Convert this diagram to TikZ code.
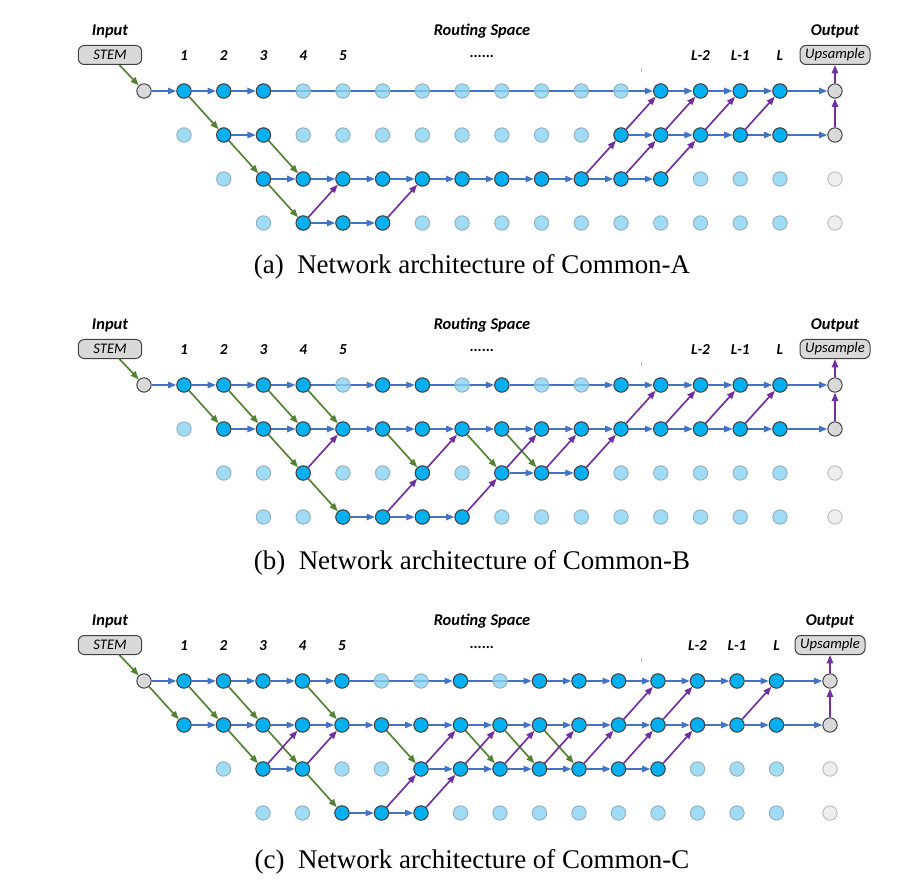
\documentclass[tikz,border=0pt]{standalone}
\usepackage{fontspec}
\setmainfont{Liberation Serif}
\newfontfamily\calfont{Carlito}
\usetikzlibrary{arrows.meta}
\pgfdeclarelayer{bg}
\pgfsetlayers{bg,main}
\definecolor{cellon}{RGB}{0,176,240}
\definecolor{celloff}{RGB}{136,211,242}
\definecolor{celloffline}{RGB}{150,178,192}
\definecolor{cellline}{RGB}{64,64,64}
\definecolor{iogray}{RGB}{217,217,217}
\definecolor{iooff}{RGB}{238,238,238}
\definecolor{iooffline}{RGB}{190,190,190}
\definecolor{sameblue}{RGB}{68,114,196}
\definecolor{downgreen}{RGB}{84,130,53}
\definecolor{uppurple}{RGB}{112,48,160}

\begin{document}
\begin{tikzpicture}[x=0.3mm,y=-0.3mm,>={Triangle[length=2.5mm,width=1.9mm]},
  cell/.style={circle,line width=0.3mm,minimum size=4.3mm,inner sep=0pt},
  idle/.style={cell,draw=celloffline,fill=celloff,fill opacity=0.8},
  active/.style={cell,draw=cellline,fill=cellon},
  io/.style={cell,draw=cellline,fill=iogray},
  ioidle/.style={cell,draw=iooffline,fill=iooff},
  block/.style={draw=cellline,fill=iogray,line width=0.3mm,rounded corners=1.8mm,
    minimum height=5.7mm,inner sep=0pt,font=\calfont\itshape\fontsize{12.5}{14}\selectfont},
  head/.style={font=\calfont\bfseries\itshape\fontsize{14}{16}\selectfont},
  colnum/.style={font=\calfont\bfseries\itshape\fontsize{13}{15}\selectfont},
  capt/.style={font=\fontsize{23}{27}\selectfont},
  fwdedge/.style={->,line width=0.5mm,draw=sameblue},
  dnedge/.style={fwdedge,draw=downgreen},
  upedge/.style={fwdedge,draw=uppurple}]
\useasboundingbox (0,0) rectangle (904,888);

% grid, labels and stem/output of the three panels
\foreach \p/\base/\P/\capy/\dx/\ox in {a/91/A/267/39.73/835,b/385/B/563/39.73/835,c/681/C/862/39.5/830}{
  \node[head] (\p-in) at (110,\base-60) {Input};
  \node[head] (\p-rs) at (482,\base-60) {Routing Space};
  \node[head] (\p-out) at (\ox,\base-60) {Output};
  \node[block,minimum width=19mm] (\p-stem) at (110,\base-36) {STEM};
  \node[block,minimum width=21mm] (\p-up) at (\ox,\base-36) {Upsample};
  \node[colnum,anchor=base] (\p-dots) at (482,\base-33) {......};
  \foreach \c/\t in {1/1,2/2,3/3,4/4,5/5,14/L-2,15/L-1,16/L}
    \node[colnum] (\p-lab-\c) at ({184+(\c-1)*\dx},\base-35) {\t};
  \draw[iooffline,line width=0.3mm] (641,\base-23) -- (641,\base-19);
  \node[io] (\p-1-0) at (144,\base) {};
  \foreach \r/\first in {1/1,2/1,3/2,4/3}{
    \foreach \c in {\first,...,16}
      \node[idle] (\p-\r-\c) at ({184+(\c-1)*\dx},{\base+(\r-1)*44}) {};}
  \foreach \r in {1,2}
    \node[io] (\p-\r-17) at (\ox,{\base+(\r-1)*44}) {};
  \foreach \r in {3,4}
    \node[ioidle] (\p-\r-17) at (\ox,{\base+(\r-1)*44}) {};
  \node[capt] (\p-cap) at (472,\capy) {(\p)\enspace Network architecture of Common-\P};
  \begin{pgfonlayer}{bg}
    \draw[dnedge] (\p-stem) -- (\p-1-0);
    \draw[upedge] (\p-2-17) -- (\p-1-17);
    \draw[upedge] (\p-1-17) -- (\p-up);
  \end{pgfonlayer}
}

% Common-A
\foreach \r/\cols in {1/{1,2,3,13,14,15,16},2/{2,3,12,13,14,15,16},3/{3,...,13},4/{4,5,6}}{
  \foreach \c in \cols
    \node[active] (a-\r-\c) at (a-\r-\c) {};}
\begin{pgfonlayer}{bg}
  \foreach \r/\chain in {1/{0,1,2,3,13,14,15,16,17},2/{2,3},2/{12,...,17},3/{3,...,13},4/{4,5,6}}{
    \foreach \c [count=\i,remember=\c as \prev (initially 0)] in \chain
      {\ifnum\i>1 \draw[fwdedge] (a-\r-\prev) -- (a-\r-\c);\fi}}
  \foreach \r/\c in {1/1,2/2,2/3,3/3}{
    \pgfmathtruncatemacro\rr{\r+1}\pgfmathtruncatemacro\cc{\c+1}
    \draw[dnedge] (a-\r-\c) -- (a-\rr-\cc);}
  \foreach \r/\c in {4/4,4/6,3/11,2/12,3/12,2/13,3/13,2/14,2/15}{
    \pgfmathtruncatemacro\rr{\r-1}\pgfmathtruncatemacro\cc{\c+1}
    \draw[upedge] (a-\r-\c) -- (a-\rr-\cc);}
\end{pgfonlayer}

% Common-B
\foreach \r/\cols in {1/{1,2,3,4,6,7,9,12,13,14,15,16},2/{2,...,16},3/{4,7,9,10,11},4/{5,6,7,8}}{
  \foreach \c in \cols
    \node[active] (b-\r-\c) at (b-\r-\c) {};}
\begin{pgfonlayer}{bg}
  \foreach \r/\chain in {1/{0,1,2,3,4,6,7,9,12,13,14,15,16,17},2/{2,...,17},3/{9,10,11},4/{5,6,7,8}}{
    \foreach \c [count=\i,remember=\c as \prev (initially 0)] in \chain
      {\ifnum\i>1 \draw[fwdedge] (b-\r-\prev) -- (b-\r-\c);\fi}}
  \foreach \r/\c in {1/1,1/2,1/3,1/4,2/3,3/4,2/6,2/8,2/9}{
    \pgfmathtruncatemacro\rr{\r+1}\pgfmathtruncatemacro\cc{\c+1}
    \draw[dnedge] (b-\r-\c) -- (b-\rr-\cc);}
  \foreach \r/\c in {3/4,4/6,3/7,4/8,3/9,3/10,3/11,2/12,2/13,2/14,2/15}{
    \pgfmathtruncatemacro\rr{\r-1}\pgfmathtruncatemacro\cc{\c+1}
    \draw[upedge] (b-\r-\c) -- (b-\rr-\cc);}
\end{pgfonlayer}

% Common-C
\foreach \r/\cols in {1/{1,2,3,4,5,8,10,11,12,13,14,15,16},2/{1,...,16},3/{3,4,7,8,9,10,11,12,13},4/{5,6,7}}{
  \foreach \c in \cols
    \node[active] (c-\r-\c) at (c-\r-\c) {};}
\begin{pgfonlayer}{bg}
  \foreach \r/\chain in {1/{0,1,2,3,4,5,8,10,11,12,13,14,15,16,17},2/{1,...,17},3/{3,4},3/{7,...,13},4/{5,6,7}}{
    \foreach \c [count=\i,remember=\c as \prev (initially 0)] in \chain
      {\ifnum\i>1 \draw[fwdedge] (c-\r-\prev) -- (c-\r-\c);\fi}}
  \foreach \r/\c in {1/0,1/1,1/2,1/4,2/2,2/3,3/4,2/6,2/8,2/9,2/10}{
    \pgfmathtruncatemacro\rr{\r+1}\pgfmathtruncatemacro\cc{\c+1}
    \draw[dnedge] (c-\r-\c) -- (c-\rr-\cc);}
  \foreach \r/\c in {3/3,3/4,4/6,3/7,4/7,3/8,3/9,3/10,3/11,2/12,3/12,2/13,3/13,2/15}{
    \pgfmathtruncatemacro\rr{\r-1}\pgfmathtruncatemacro\cc{\c+1}
    \draw[upedge] (c-\r-\c) -- (c-\rr-\cc);}
\end{pgfonlayer}
\end{tikzpicture}
\end{document}
